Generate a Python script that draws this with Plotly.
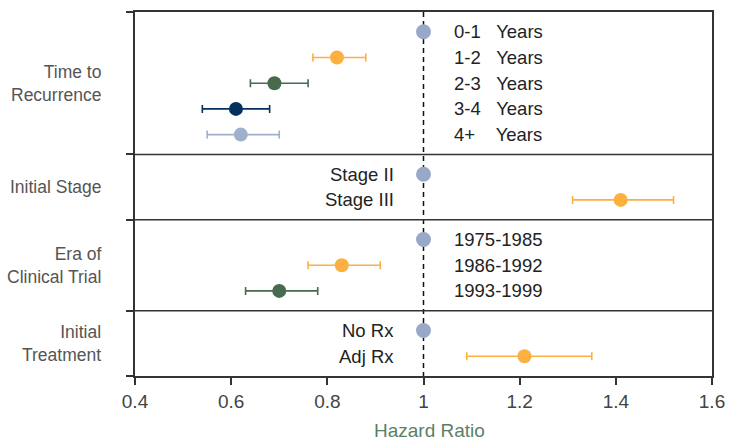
import plotly.graph_objects as go

# ---------------- data ----------------
group_names = ["Time to<br>Recurrence", "Initial Stage", "Era of<br>Clinical Trial", "Initial<br>Treatment"]
group_label_side = ["right", "left", "right", "left"]  # where row labels sit relative to HR=1

row_group = [0, 0, 0, 0, 0, 1, 1, 2, 2, 2, 3, 3]
row_labels = [
    "0-1\u00a0\u00a0\u00a0Years",
    "1-2\u00a0\u00a0\u00a0Years",
    "2-3\u00a0\u00a0\u00a0Years",
    "3-4\u00a0\u00a0\u00a0Years",
    "4+\u00a0\u00a0\u00a0\u00a0Years",
    "Stage II",
    "Stage III",
    "1975-1985",
    "1986-1992",
    "1993-1999",
    "No Rx",
    "Adj Rx",
]
hazard_ratio = [1.00, 0.82, 0.69, 0.61, 0.62, 1.00, 1.41, 1.00, 0.83, 0.70, 1.00, 1.21]
ci_low = [None, 0.77, 0.64, 0.54, 0.55, None, 1.31, None, 0.76, 0.63, None, 1.09]
ci_high = [None, 0.88, 0.76, 0.68, 0.70, None, 1.52, None, 0.91, 0.78, None, 1.35]

x_ticks = [0.4, 0.6, 0.8, 1.0, 1.2, 1.4, 1.6]
x_tick_text = ["0.4", "0.6", "0.8", "1", "1.2", "1.4", "1.6"]

# ---------------- styles ----------------
REF = "#97a8c9"
ORANGE = "#fbb040"
GREEN = "#486a4e"
NAVY = "#06315f"
LIGHT = "#9eb0cc"
row_colors = [REF, ORANGE, GREEN, NAVY, LIGHT, REF, ORANGE, REF, ORANGE, GREEN, REF, ORANGE]

FRAME = "#333333"
BASE = "Liberation Sans, Arial, sans-serif"
ROW_FONT = dict(family=BASE, size=18.5, color="#222222")
GROUP_FONT = dict(family=BASE, size=17.5, color="#555555")
TICK_FONT = dict(family=BASE, size=19, color="#444444")

# ---------------- layout of rows ----------------
pad = 0.77  # padding (in row units) above first and below last row of each panel
row_y = []
bounds = [0.0]
group_center = []
cursor = 0.0
for g in range(len(group_names)):
    n = row_group.count(g)
    top = cursor
    for i in range(n):
        row_y.append(top + pad + i)
    cursor = top + 2 * pad + (n - 1)
    bounds.append(cursor)
    group_center.append((top + cursor) / 2)
total = cursor

fig = go.Figure()

for i in range(len(row_labels)):
    tr = dict(
        x=[hazard_ratio[i]],
        y=[row_y[i]],
        mode="markers",
        marker=dict(color=row_colors[i], size=15 if ci_low[i] is None else 14),
        showlegend=False,
        hoverinfo="skip",
    )
    if ci_low[i] is not None:
        tr["error_x"] = dict(
            type="data",
            symmetric=False,
            array=[ci_high[i] - hazard_ratio[i]],
            arrayminus=[hazard_ratio[i] - ci_low[i]],
            color=row_colors[i],
            thickness=1.6,
            width=4,
        )
    fig.add_trace(go.Scatter(**tr))

# reference dashed line at HR = 1
fig.add_shape(type="line", xref="x", yref="y", x0=1, x1=1, y0=0, y1=total,
              line=dict(color="#111111", width=1.5, dash="5px,4px"), layer="below")

# panel dividers
for b in bounds[1:-1]:
    fig.add_shape(type="line", xref="paper", yref="y", x0=0, x1=1, y0=b, y1=b,
                  line=dict(color=FRAME, width=1.5))

annotations = []
for i, lab in enumerate(row_labels):
    side = group_label_side[row_group[i]]
    annotations.append(dict(
        x=1, y=row_y[i], xref="x", yref="y", text=lab, showarrow=False,
        xanchor="left" if side == "right" else "right",
        xshift=28 if side == "right" else -28,
        yanchor="middle", font=ROW_FONT,
    ))
for g, name in enumerate(group_names):
    annotations.append(dict(
        x=-0.056, y=group_center[g], xref="paper", yref="y", text=name, showarrow=False,
        xanchor="right", align="right", yanchor="middle", font=GROUP_FONT,
    ))
annotations.append(dict(
    x=0.51, y=-0.15, xref="paper", yref="paper", text="Hazard Ratio", showarrow=False,
    xanchor="center", yanchor="middle",
    font=dict(family=BASE, size=19, color="#5b7f66"),
))

fig.update_layout(
    width=735, height=444,
    margin=dict(l=135, r=15, t=10, b=68),
    paper_bgcolor="white", plot_bgcolor="white",
    annotations=annotations,
    xaxis=dict(
        range=[0.4, 1.6], tickvals=x_ticks, ticktext=x_tick_text,
        showgrid=False, zeroline=False, showline=True, linecolor=FRAME, linewidth=1.5,
        mirror=True, ticks="outside", ticklen=7, tickcolor=FRAME, tickwidth=1.5,
        tickfont=TICK_FONT,
    ),
    yaxis=dict(
        range=[total, 0], tickvals=bounds, ticktext=[""] * len(bounds),
        showgrid=False, zeroline=False, showline=True, linecolor=FRAME, linewidth=1.5,
        mirror=True, ticks="outside", ticklen=7, tickcolor=FRAME, tickwidth=1.5,
    ),
)

# remove the default 8px page margin so the figure fills the window exactly
fig.write_html(
    "out.html",
    config={"displayModeBar": False},
    post_script="document.body.style.margin='0';document.body.style.overflow='hidden';",
)
